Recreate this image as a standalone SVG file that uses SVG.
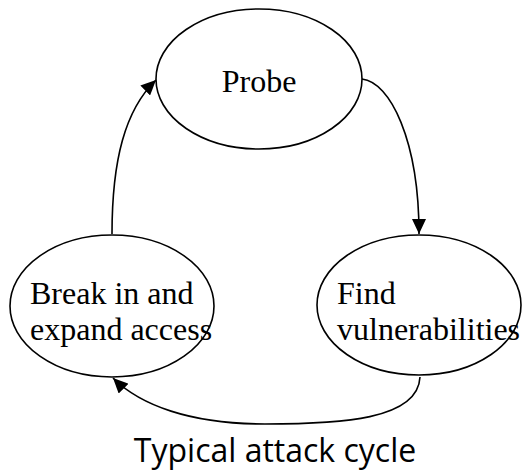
<svg xmlns="http://www.w3.org/2000/svg" width="524" height="471" viewBox="0 0 524 471">
  <defs>
    <marker id="arrow" viewBox="0 0 15 14" refX="15" refY="7" markerWidth="15" markerHeight="14" markerUnits="userSpaceOnUse" orient="auto">
      <path d="M0,0 L15,7 L0,14 Z" fill="#000"/>
    </marker>
    <style>
      .node ellipse { fill: #fff; stroke: #000; stroke-width: 1.6; }
      .label { font-family: "Liberation Serif", "Times New Roman", serif; font-size: 32px; fill: #000; }
      .edge { fill: none; stroke: #000; stroke-width: 1.6; }
      .caption { font-family: "Open Sans", "DejaVu Sans", sans-serif; font-size: 32px; fill: #000; }
    </style>
  </defs>
  <rect width="524" height="471" fill="#fff"/>

  <!-- connectors -->
  <g id="edges">
    <path class="edge" d="M112,234 C112,160 125,110 156,80" marker-end="url(#arrow)"/>
    <path class="edge" d="M362,79 C390,82 419,140 419,234" marker-end="url(#arrow)"/>
    <path class="edge" d="M420,377 C418,420 340,424 265,424 C190,424 140,405 113,378" marker-end="url(#arrow)"/>
  </g>

  <g id="probe" class="node">
    <ellipse cx="259" cy="79" rx="103" ry="70"/>
    <text class="label" x="259" y="92" text-anchor="middle">Probe</text>
  </g>

  <g id="break-in" class="node">
    <ellipse cx="112" cy="306" rx="102" ry="71"/>
    <text class="label" x="30" y="304">Break in and</text>
    <text class="label" x="30" y="340">expand access</text>
  </g>

  <g id="find" class="node">
    <ellipse cx="419" cy="305" rx="102" ry="70"/>
    <text class="label" x="337" y="304">Find</text>
    <text class="label" x="337" y="340">vulnerabilities</text>
  </g>

  <text class="caption" x="275" y="462" text-anchor="middle">Typical attack cycle</text>
</svg>
